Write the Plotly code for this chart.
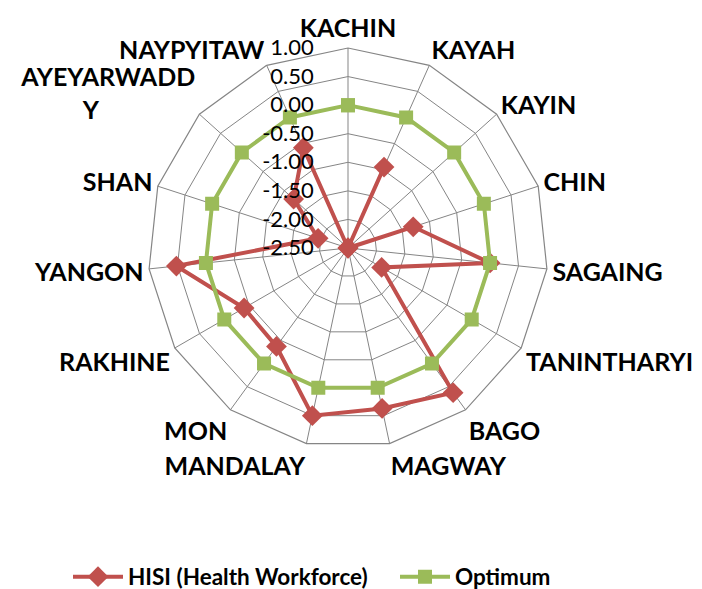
import plotly.graph_objects as go

NB = "\u00a0"
categories = ["KACHIN", "KAYAH", "KAYIN", "CHIN", "SAGAING", "TANINTHARYI", "BAGO",
              "MAGWAY", "MANDALAY", "MON", "RAKHINE", "YANGON", "SHAN",
              "AYEYARWADD<br>Y" + NB * 16, "NAYPYITAW"]
hisi = [-2.50, -0.95, -2.50, -1.30, 0.00, -1.82, 0.63, 0.37, 0.50, -0.37, -0.40, 0.52, -1.95, -1.22, -0.58]
optimum = [0.00] * 15
radial_ticks = [-2.5, -2.0, -1.5, -1.0, -0.5, 0.0, 0.5, 1.0]

RED = "#C0504D"
GREEN = "#9BBB59"
GRID = "#858585"

# page body has an 8px default margin, so the figure is sized to fit the window
W, H = 694, 581
cx, cy, half = 340, 240, 200  # polar domain centre/half-size in figure px

fig = go.Figure()
fig.add_trace(go.Scatterpolar(
    r=hisi + hisi[:1], theta=categories + categories[:1], name="HISI (Health Workforce)",
    mode="lines+markers", line=dict(color=RED, width=4), cliponaxis=True,
    marker=dict(symbol="diamond", size=16, color=RED), legend="legend"))
fig.add_trace(go.Scatterpolar(
    r=optimum + optimum[:1], theta=categories + categories[:1], name="Optimum",
    mode="lines+markers", line=dict(color=GREEN, width=4), cliponaxis=True,
    marker=dict(symbol="square", size=14, color=GREEN), legend="legend2"))

legend_font = dict(family="Lato", size=22.5, color="black", weight="bold")

fig.update_layout(
    width=W, height=H,
    margin=dict(l=0, r=0, t=0, b=0, autoexpand=False),
    paper_bgcolor="white", plot_bgcolor="white",
    font=dict(family="Lato", color="black"),
    polar=dict(
        domain=dict(x=[(cx - half) / W, (cx + half) / W],
                    y=[(H - cy - half) / H, (H - cy + half) / H]),
        bgcolor="white",
        gridshape="linear",
        angularaxis=dict(
            direction="clockwise", rotation=90, type="category",
            tickfont=dict(family="Lato", size=25, color="black", weight="bold"),
            showline=True, linecolor=GRID, linewidth=1.2,
            showgrid=True, gridcolor=GRID, gridwidth=1.2,
            ticks="",
        ),
        radialaxis=dict(
            range=[-2.5, 1.0], tickmode="array", tickvals=radial_ticks,
            ticktext=[f"{v:.2f}" for v in radial_ticks],
            angle=90, side="counterclockwise", tickangle=90,
            tickfont=dict(family="Lato", size=22, color="black"),
            showline=False, showgrid=True, gridcolor=GRID, gridwidth=1.2,
            ticks="outside", ticklen=26, tickcolor="rgba(0,0,0,0)",
        ),
    ),
    legend=dict(orientation="h", x=60 / W, xanchor="left", y=12 / H, yanchor="middle",
                font=legend_font, itemwidth=50),
    legend2=dict(orientation="h", x=387 / W, xanchor="left", y=12 / H, yanchor="middle",
                 font=legend_font, itemwidth=50),
    showlegend=True,
)

fig.write_html("out.html")
